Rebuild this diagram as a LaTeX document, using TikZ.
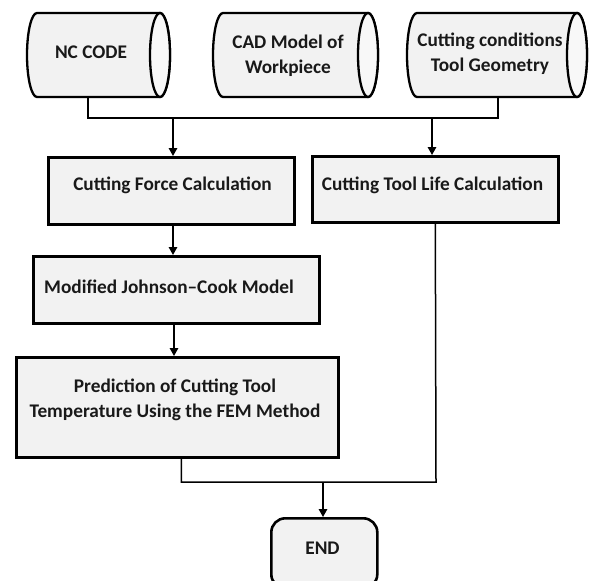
\documentclass[tikz,border=0pt]{standalone}
\usepackage{fontspec}
\setmainfont{Carlito}
\usetikzlibrary{arrows.meta}
\definecolor{boxfill}{HTML}{F2F2F2}
\definecolor{endfill}{HTML}{F8F8F8}
\tikzset{
  box/.style={draw=black, line width=2.6pt, fill=boxfill, rectangle, inner sep=0pt},
  lbl/.style={font=\fontsize{19.3}{25}\selectfont\bfseries, inner sep=0pt, text=black!90, align=center},
  conn/.style={line width=1.5pt},
  arr/.style={conn, -{Triangle[length=8pt,width=8.5pt]}},
  cylbody/.style={draw=black, line width=2.3pt, fill=boxfill},
  cylend/.style={draw=black, line width=2.3pt, fill=endfill},
}
\newcommand{\mycyl}[3]{%
  \path[cylbody] (#3-10,13) -- (#2+10,13) arc[start angle=270,end angle=90,x radius=10,y radius=42] -- (#3-10,97) arc[start angle=90,end angle=-90,x radius=10,y radius=42] -- cycle;
  \path[cylend] (#3-10,55) ellipse[x radius=10,y radius=42];
}
\begin{document}
\begin{tikzpicture}[x=1pt,y=-1pt]
\useasboundingbox (0,0) rectangle (593,580);
% input cylinders
\mycyl{nc}{27}{170}
\mycyl{cad}{213}{378}
\mycyl{cc}{407}{587}
\node[lbl, anchor=base] (nc) at (91,59) {NC CODE};
\node[lbl] (cad) at (288,56) {CAD Model of\\Workpiece};
\node[lbl] (cc) at (490,54) {Cutting conditions\\Tool Geometry};
\coordinate (ncb) at (88,97);
\coordinate (ccb) at (498,97);
\coordinate (bus) at (0,118);
\coordinate (busL) at (173,118);
\coordinate (busR) at (432,118);
% process boxes
\node[box, minimum width=246pt, minimum height=67pt, anchor=north west] (cf) at (47,156) {};
\node[lbl, anchor=base] (cft) at (172.5,190) {Cutting Force Calculation};
\node[box, minimum width=246pt, minimum height=66pt, anchor=north west] (ctl) at (311,155) {};
\node[lbl, anchor=base] (ctlt) at (432.5,190) {Cutting Tool Life Calculation};
\node[box, minimum width=286pt, minimum height=67pt, anchor=north west] (mjc) at (32,255) {};
\node[lbl, anchor=base] (mjct) at (169,293) {Modified Johnson–Cook Model};
\node[box, minimum width=322pt, minimum height=100pt, anchor=north west] (pred) at (15,356) {};
\node[lbl] (predt) at (175,399.5) {Prediction of Cutting Tool\\Temperature Using the FEM Method};
\node[box, rounded corners=14pt, minimum width=106pt, minimum height=70pt, anchor=north west] (endn) at (270,517) {};
\node[lbl, anchor=base] (endt) at (322.5,554) {END};
\coordinate (j2) at (436,482);
\coordinate (j3) at (323,482);
% connectors
\draw[conn] (ncb) -- (ncb |- bus) -- (ccb |- bus) -- (ccb);
\draw[arr] (busL) -- (busL |- cf.north);
\draw[arr] (busR) -- (busR |- ctl.north);
\draw[arr] (cf.south -| busL) -- (busL |- mjc.north);
\draw[arr] ([xshift=1pt]mjc.south -| busL) -- ([xshift=1pt]busL |- pred.north);
\draw[conn] ([xshift=4pt]pred.south) |- (j2) -- ([xshift=0pt]ctl.south);
\draw[arr] (j3) -- (j3 |- endn.north);
\end{tikzpicture}
\end{document}
